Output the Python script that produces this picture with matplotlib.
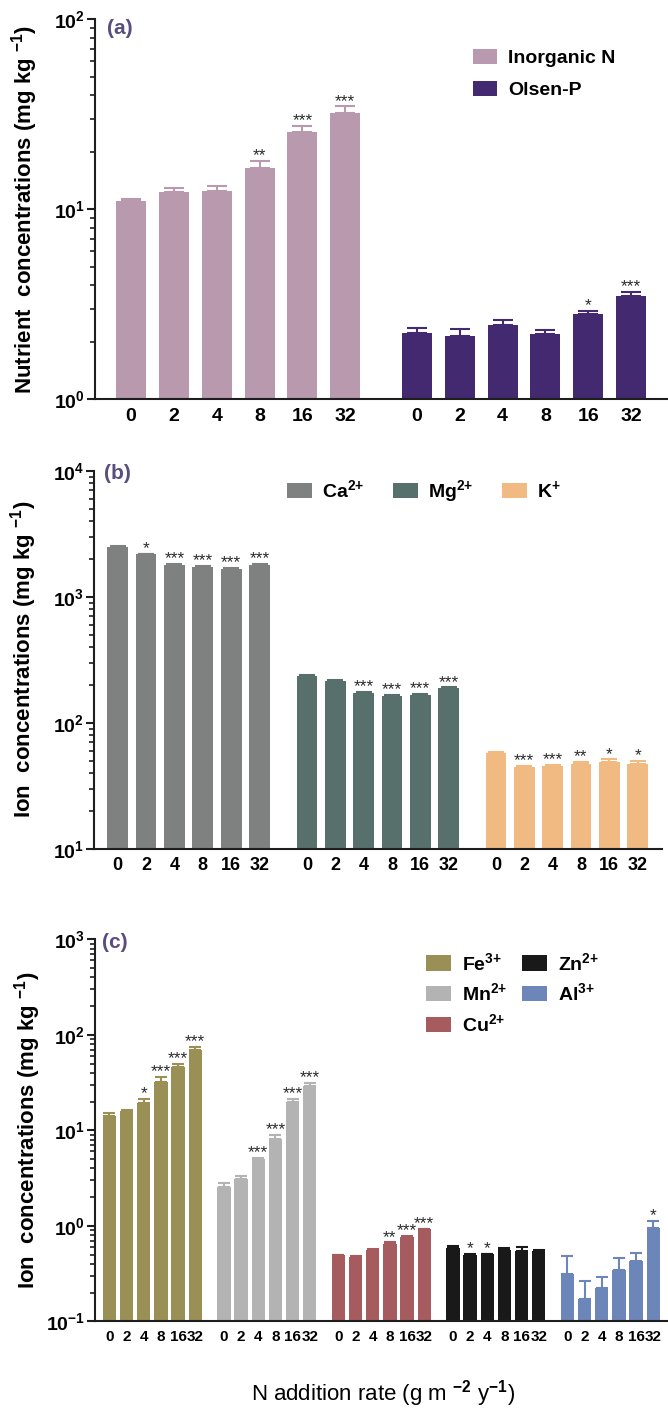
import numpy as np
import matplotlib
matplotlib.use('Agg')
import matplotlib.pyplot as plt
from matplotlib.ticker import LogLocator, FuncFormatter, NullFormatter, FixedLocator

plt.rcParams['font.family'] = ['Liberation Sans', 'DejaVu Sans']
plt.rcParams['font.weight'] = 'bold'
plt.rcParams['axes.labelweight'] = 'bold'
plt.rcParams['mathtext.fontset'] = 'custom'
plt.rcParams['mathtext.rm'] = 'Liberation Sans'
plt.rcParams['mathtext.bf'] = 'Liberation Sans:bold'
plt.rcParams['mathtext.it'] = 'Liberation Sans:italic'
plt.rcParams['mathtext.default'] = 'bf'

rates = ['0', '2', '4', '8', '16', '32']

# panel (a)
inorg_n = [11.1, 12.3, 12.5, 16.5, 25.5, 32.0]
inorg_n_err = [0.3, 0.6, 0.7, 1.5, 2.0, 2.8]
inorg_n_sig = ['', '', '', '**', '***', '***']
olsen_p = [2.24, 2.16, 2.47, 2.21, 2.80, 3.48]
olsen_p_err = [0.13, 0.19, 0.15, 0.12, 0.13, 0.18]
olsen_p_sig = ['', '', '', '', '*', '***']

# panel (b)
ca = [2495, 2168, 1774, 1731, 1667, 1795]
ca_err = [40, 35, 40, 30, 35, 30]
ca_sig = ['', '*', '***', '***', '***', '***']
mg = [236, 215, 171, 163, 167, 188]
mg_err = [3, 3, 4, 3, 3, 3]
mg_sig = ['', '', '***', '***', '***', '***']
k = [57.8, 44.8, 45.6, 47.3, 49.0, 47.5]
k_err = [0.8, 0.8, 0.8, 1.7, 2.2, 2.4]
k_sig = ['', '***', '***', '**', '*', '*']

# panel (c)
fe = [14.1, 16.1, 19.5, 32.4, 46.4, 70.0]
fe_err = [1.0, 0.3, 1.6, 4.1, 3.1, 4.6]
fe_sig = ['', '', '*', '***', '***', '***']
mn = [2.57, 3.07, 4.96, 8.18, 19.9, 29.4]
mn_err = [0.26, 0.28, 0.21, 0.82, 1.2, 1.9]
mn_sig = ['', '', '***', '***', '***', '***']
cu = [0.49, 0.476, 0.558, 0.646, 0.771, 0.919]
cu_err = [0.01, 0.005, 0.012, 0.024, 0.019, 0.011]
cu_sig = ['', '', '', '**', '***', '***']
zn = [0.581, 0.495, 0.503, 0.558, 0.550, 0.550]
zn_err = [0.039, 0.015, 0.007, 0.022, 0.046, 0.01]
zn_sig = ['', '*', '*', '', '', '']
al = [0.313, 0.170, 0.223, 0.345, 0.425, 0.942]
al_err = [0.175, 0.097, 0.068, 0.12, 0.099, 0.183]
al_sig = ['', '', '', '', '', '*']

GAP = 1.67
SPINE = '#1e1e1e'
LABEL_COL = '#5a4e7e'


def draw_panel(ax, series, width, capsize, tick_fs):
    xs_all = []
    handles = []
    for gi, (vals, errs, sig, color, label) in enumerate(series):
        x = np.arange(6) + gi * (5 + GAP)
        h = ax.bar(x, vals, width, color=color, label=label, zorder=2)
        handles.append(h)
        ax.errorbar(x, vals, yerr=[np.zeros(6), errs], fmt='none', ecolor=color,
                    elinewidth=1.5, capsize=capsize, capthick=1.5, zorder=1)
        for xi, v, e, s in zip(x, vals, errs, sig):
            if s:
                ax.annotate(s, (xi, v + e), xytext=(0, 0.5), textcoords='offset points',
                            ha='center', va='baseline', fontsize=12.5,
                            fontweight='normal', color='#2a2a2a')
        xs_all.extend(x)
    ax.set_yscale('log')
    ax.set_xlim(-0.84, xs_all[-1] + 0.86)
    ax.xaxis.set_major_locator(FixedLocator(xs_all))
    ax.set_xticklabels(rates * len(series))
    ax.tick_params(axis='x', length=0, labelsize=tick_fs, pad=6)
    ax.yaxis.set_major_locator(LogLocator(base=10, numticks=10))
    ax.yaxis.set_minor_locator(LogLocator(base=10, subs=np.arange(2, 10), numticks=10))
    ax.yaxis.set_minor_formatter(NullFormatter())
    ax.yaxis.set_major_formatter(FuncFormatter(lambda v, p: r'$10^{%d}$' % round(np.log10(v))))
    ax.tick_params(axis='y', which='major', length=6, width=1.5, labelsize=14, pad=1, color=SPINE)
    ax.tick_params(axis='y', which='minor', length=3.5, width=1.2, color=SPINE)
    for side in ['top', 'right']:
        ax.spines[side].set_visible(False)
    for side in ['left', 'bottom']:
        ax.spines[side].set_linewidth(1.5)
        ax.spines[side].set_color(SPINE)
    return handles


fig = plt.figure(figsize=(6.68, 14.21), dpi=100)

# (a)
ax1 = fig.add_axes([0.1422, 0.7190, 0.8578, 0.2674])
h1 = draw_panel(ax1, [
    (inorg_n, inorg_n_err, inorg_n_sig, '#b999ae', 'Inorganic N'),
    (olsen_p, olsen_p_err, olsen_p_sig, '#43296f', 'Olsen-P'),
], 0.70, 7.5, 14)
ax1.set_ylim(1, 100)
ax1.set_ylabel(r'Nutrient  concentrations (mg kg $^{-1}$)', fontsize=16)
ax1.yaxis.set_label_coords(-0.096, 0.5)
ax1.text(0.021, 0.977, '(a)', transform=ax1.transAxes, fontsize=15,
         color=LABEL_COL, ha='left', va='center')
ax1.legend(handles=h1, loc='upper left', bbox_to_anchor=(0.660, 0.922), frameon=False,
           fontsize=14, borderpad=0, borderaxespad=0, handlelength=1.24,
           handleheight=0.82, handletextpad=0.57, labelspacing=0.7)

# (b)
ax2 = fig.add_axes([0.1407, 0.4027, 0.8503, 0.2660])
h2 = draw_panel(ax2, [
    (ca, ca_err, ca_sig, '#7f8080', r'Ca$^{2{+}}$'),
    (mg, mg_err, mg_sig, '#58706c', r'Mg$^{2{+}}$'),
    (k, k_err, k_sig, '#f0ba82', r'K$^{{+}}$'),
], 0.73, 5.5, 13)
ax2.set_ylim(10, 1e4)
ax2.set_ylabel(r'Ion  concentrations (mg kg $^{-1}$)', fontsize=16)
ax2.yaxis.set_label_coords(-0.097, 0.5)
ax2.text(0.018, 0.994, '(b)', transform=ax2.transAxes, fontsize=15,
         color=LABEL_COL, ha='left', va='center')
ax2.legend(handles=h2, loc='upper left', bbox_to_anchor=(0.340, 0.981), frameon=False,
           fontsize=14, ncol=3, borderpad=0, borderaxespad=0, handlelength=1.29,
           handleheight=0.82, handletextpad=0.52, columnspacing=1.45)

# (c)
ax3 = fig.add_axes([0.1422, 0.0702, 0.8578, 0.2688])
h3 = draw_panel(ax3, [
    (fe, fe_err, fe_sig, '#9a9055', r'Fe$^{3{+}}$'),
    (mn, mn_err, mn_sig, '#b3b3b3', r'Mn$^{2{+}}$'),
    (cu, cu_err, cu_sig, '#a65b5e', r'Cu$^{2{+}}$'),
    (zn, zn_err, zn_sig, '#191919', r'Zn$^{2{+}}$'),
    (al, al_err, al_sig, '#6c86ba', r'Al$^{3{+}}$'),
], 0.77, 4.5, 11)
ax3.set_ylim(0.1, 1000)
ax3.set_ylabel(r'Ion  concentrations (mg kg $^{-1}$)', fontsize=16)
ax3.yaxis.set_label_coords(-0.09, 0.5)
ax3.set_xlabel(r'N addition rate (g m $^{\mathrm{-2}}$ y$^{\mathrm{-1}}$)', fontsize=16,
               fontweight='normal')
ax3.xaxis.label.set_va('center')
ax3.xaxis.set_label_coords(0.503, -0.188)
ax3.text(0.012, 0.991, '(c)', transform=ax3.transAxes, fontsize=15,
         color=LABEL_COL, ha='left', va='center')
ax3.legend(handles=h3, loc='upper left', bbox_to_anchor=(0.577, 0.967), frameon=False,
           fontsize=14, ncol=2, borderpad=0, borderaxespad=0, handlelength=1.29,
           handleheight=0.82, handletextpad=0.57, labelspacing=0.45, columnspacing=0.77)

fig.savefig('out.png', dpi=100)
